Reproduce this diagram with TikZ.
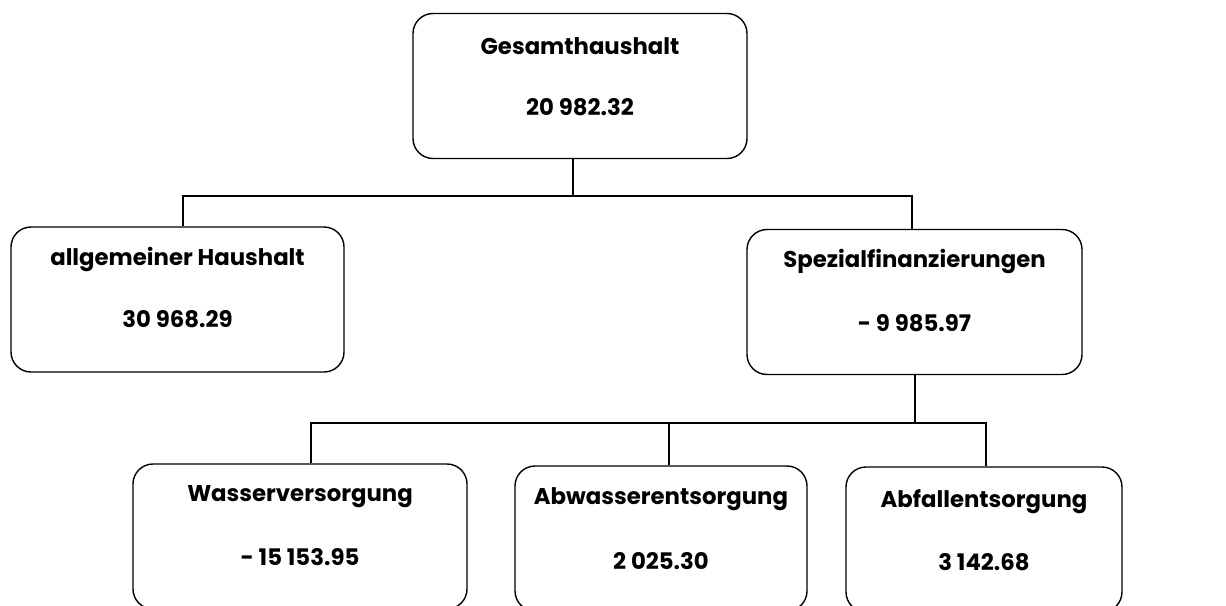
\documentclass[tikz,border=0pt]{standalone}
\usepackage{fontspec}
\setmainfont{Poppins}
\usepackage{tikz}

\tikzset{
  finbox/.style={draw, rounded corners=20pt, line width=1.4pt, minimum height=145pt},
  finlbl/.style={font=\bfseries\fontsize{22.8}{26}\selectfont, inner sep=0pt},
}

\begin{document}
\begin{tikzpicture}[x=1pt,y=-1pt, line width=1.4pt]
	\useasboundingbox (0,0) rectangle (1226,605);

	\node[finbox, minimum width=334pt] (top) at (580,86) {};
	\node[finbox, minimum width=333pt] (allg) at (177.5,299.5) {};
	\node[finbox, minimum width=335pt] (spez) at (914.5,302) {};
	\node[finbox, minimum width=334pt] (wasser) at (300,536.5) {};
	\node[finbox, minimum width=292pt] (abwasser) at (661,538.5) {};
	\node[finbox, minimum width=276pt] (abfall) at (984,539.5) {};

	\node[finlbl] at ([yshift=-33pt]top.north) {Gesamthaushalt};
	\node[finlbl] at ([yshift=-94pt]top.north) {20 982.32};
	\node[finlbl] at ([yshift=-33pt]allg.north) {allgemeiner Haushalt};
	\node[finlbl] at ([yshift=-93pt]allg.north) {30 968.29};
	\node[finlbl] at ([yshift=-33pt]spez.north) {Spezialfinanzierungen};
	\node[finlbl] at ([yshift=-94pt]spez.north) {- 9 985.97};
	\node[finlbl] at ([yshift=-33pt]wasser.north) {Wasserversorgung};
	\node[finlbl] at ([yshift=-94pt]wasser.north) {- 15 153.95};
	\node[finlbl] at ([yshift=-34pt]abwasser.north) {Abwasserentsorgung};
	\node[finlbl] at ([yshift=-96pt]abwasser.north) {2 025.30};
	\node[finlbl] at ([yshift=-35pt]abfall.north) {Abfallentsorgung};
	\node[finlbl] at ([yshift=-96pt]abfall.north) {3 142.68};

	% first level
	\coordinate (aM) at (573,196);
	\coordinate (aL) at (183,196);
	\coordinate (aR) at (912,196);
	\draw (top.south -| aM) -- (aM);
	\draw (allg.north -| aL) -- (aL) -- (aR) -- (spez.north -| aR);

	% second level
	\coordinate (bM) at (915,423);
	\coordinate (bL) at (311,423);
	\coordinate (bC) at (669,423);
	\coordinate (bR) at (986,423);
	\draw (spez.south -| bM) -- (bM);
	\draw (wasser.north -| bL) -- (bL) -- (bR) -- (abfall.north -| bR);
	\draw (bC) -- (abwasser.north -| bC);
\end{tikzpicture}
\end{document}
